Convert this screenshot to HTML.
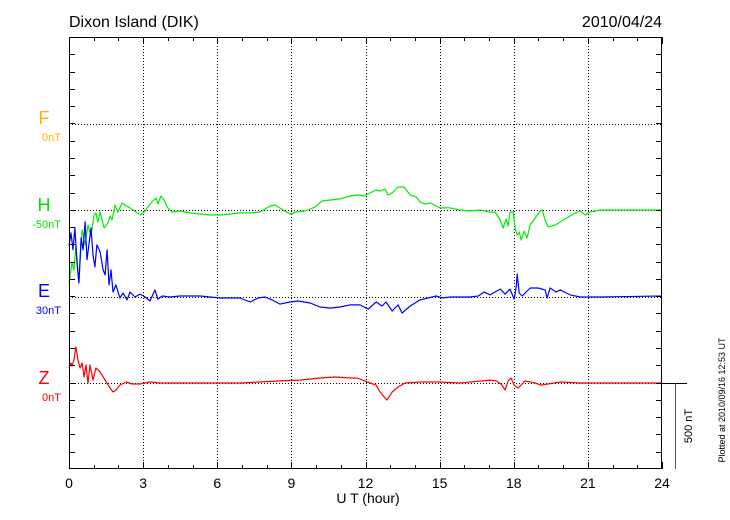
<!DOCTYPE html>
<html><head><meta charset="utf-8"><style>
body{margin:0;background:#fff;}
svg{display:block;font-family:"Liberation Sans",sans-serif;}
</style></head><body>
<svg id="chart" width="730" height="520" viewBox="0 0 730 520">
<text x="69" y="27" font-size="16">Dixon Island (DIK)</text>
<text x="662" y="27" font-size="16" text-anchor="end">2010/04/24</text>
<g id="grid"></g>
<g id="series"></g>
<rect x="69.5" y="37.5" width="592" height="431" fill="none" stroke="#000"/>
<g id="axes"></g>
<text x="368" y="503" font-size="14" text-anchor="middle">U T (hour)</text>
<g>
<text x="44" y="124" font-size="18" fill="#ffb000" text-anchor="middle">F</text>
<text x="61" y="141" font-size="11" fill="#ffb000" text-anchor="end">0nT</text>
<text x="44" y="211" font-size="18" fill="#00e000" text-anchor="middle">H</text>
<text x="61" y="228" font-size="11" fill="#00e000" text-anchor="end">-50nT</text>
<text x="44" y="297" font-size="18" fill="#0000ff" text-anchor="middle">E</text>
<text x="61" y="314" font-size="11" fill="#0000ff" text-anchor="end">30nT</text>
<text x="44" y="384" font-size="18" fill="#ff0000" text-anchor="middle">Z</text>
<text x="61" y="401" font-size="11" fill="#ff0000" text-anchor="end">0nT</text>
</g>
<g>
<line x1="662" y1="383.5" x2="687" y2="383.5" stroke="#000"/>
<line x1="675.5" y1="383" x2="675.5" y2="469" stroke="#555"/>
<text transform="translate(692,426) rotate(-90)" font-size="11" text-anchor="middle">500 nT</text>
</g>
<text transform="translate(725,400) rotate(-90)" font-size="9" text-anchor="middle">Plotted at 2010/09/16 12:53 UT</text>
</svg>
<script>
const xTicks=[0,3,6,9,12,15,18,21,24];
const baseH=[124,210,297,383];
const hT=[0,.12,.2,.28,.4,.53,.65,.77,.89,1.01,1.09,1.17,1.26,1.42,1.58,1.66,1.74,1.86,1.98,2.15,2.31,2.47,2.71,2.91,3.08,3.28,3.52,3.6,3.72,3.85,3.97,4.17,4.49,4.9,5.3,5.71,6.11,6.52,6.92,7.33,7.73,8.14,8.34,8.66,8.95,9.19,9.55,9.96,10.24,10.57,10.97,11.38,11.7,11.94,12.19,12.43,12.59,12.79,12.91,13.08,13.32,13.56,13.81,14.05,14.21,14.41,14.62,15.02,15.43,15.83,16.23,16.64,17.04,17.25,17.45,17.57,17.69,17.77,17.85,17.98,18.06,18.14,18.22,18.3,18.42,18.54,18.66,18.87,19.07,19.15,19.27,19.39,19.68,20.08,20.49,20.69,20.89,21.09,21.5,24];
const hV=[-423,-302,-348,-203,-418,-116,-203,-87,-151,-29,-17,-70,-12,-104,-75,-35,-58,29,-12,41,23,12,-12,-29,-6,35,70,35,81,58,17,-12,-6,-17,-23,-29,-29,-23,-17,-17,-12,23,29,0,-23,-12,-6,17,52,58,64,81,87,81,99,116,110,122,87,99,133,133,87,75,46,35,41,12,12,0,-6,0,-12,-12,-58,-104,-52,-93,-12,-12,-110,-145,-128,-174,-122,-162,-87,-46,-6,0,-58,-99,-87,-52,-17,-6,-29,-12,0,0];
const eT=[0,.08,.16,.24,.32,.4,.49,.57,.65,.73,.81,.89,.97,1.05,1.13,1.26,1.38,1.46,1.54,1.62,1.7,1.78,1.9,2.06,2.19,2.35,2.47,2.67,2.87,3.08,3.28,3.48,3.6,3.77,4.09,4.49,5.3,6.11,6.92,7.33,7.65,7.94,8.22,8.54,8.74,8.95,9.27,9.76,10.16,10.57,10.97,11.38,11.78,12.11,12.43,12.67,12.83,13.08,13.32,13.48,13.81,14.21,14.53,14.86,15.1,15.43,16.23,16.56,16.8,17.04,17.45,17.65,17.85,18.02,18.1,18.14,18.22,18.34,18.66,18.99,19.27,19.35,19.47,19.72,19.88,20.28,20.69,21.5,24];
const eV=[296,371,273,400,203,81,342,273,435,215,307,400,244,174,302,261,157,128,273,70,157,29,70,-6,23,-17,29,0,17,0,-23,41,-12,6,0,6,6,-6,-6,-29,-6,0,-17,-41,-35,-29,-23,-35,-58,-64,-58,-46,-46,-70,-29,-52,-29,-81,-46,-93,-52,-17,-6,6,-6,0,0,6,29,12,46,17,46,-12,58,133,23,6,52,52,41,-6,52,29,41,12,0,0,6];
const zT=[0,.08,.12,.2,.28,.36,.45,.53,.61,.69,.77,.85,.97,1.09,1.26,1.46,1.66,1.78,1.9,2.06,2.31,2.55,2.87,3.28,3.68,6.92,7.73,8.54,9.35,10.16,10.77,11.38,11.66,12.19,12.43,12.59,12.87,13.08,13.32,13.6,14.21,15.02,15.83,17.04,17.29,17.49,17.65,17.77,17.89,18.02,18.18,18.46,18.87,19.07,19.39,19.88,20.69,24];
const zV=[87,116,99,133,209,133,87,116,35,104,0,104,17,87,64,17,-29,-52,-41,-12,6,-6,-6,6,0,0,6,12,17,29,35,29,29,0,-12,-52,-99,-52,-23,0,6,6,0,17,12,-6,-41,12,29,-12,-29,12,0,-12,-6,6,0,0];

const X0=69,X1=662,Y0=37,Y1=469,PXPERNT=86.4/500;
const xs=t=>X0+t*(X1-X0)/24;
const ys=(v,b)=>b-v*PXPERNT;
const NS='http://www.w3.org/2000/svg';
function mk(tag,attrs,parent){const e=document.createElementNS(NS,tag);for(const k in attrs)e.setAttribute(k,attrs[k]);parent.appendChild(e);return e;}
const grid=document.getElementById('grid'),axes=document.getElementById('axes'),ser=document.getElementById('series');
xTicks.forEach(t=>{
  const x=Math.round(xs(t))+0.5;
  if(t>0&&t<24){const l=mk('line',{x1:x,y1:Y0,x2:x,y2:Y1,stroke:'#000','stroke-dasharray':'1,2'},grid);
  
  }
  const tx=mk('text',{x:xs(t),y:488,'font-size':14,'text-anchor':'middle'},axes);tx.textContent=t;
  
  
  mk('line',{x1:x,y1:Y1,x2:x,y2:Y1-7,stroke:'#000'},axes);
  mk('line',{x1:x,y1:Y0,x2:x,y2:Y0+7,stroke:'#000'},axes);
});
for(let h=1;h<24;h++){if(h%3===0)continue;const x=Math.round(xs(h))+0.5;
  mk('line',{x1:x,y1:Y1,x2:x,y2:Y1-4,stroke:'#000'},axes);mk('line',{x1:x,y1:Y0,x2:x,y2:Y0+4,stroke:'#000'},axes);}
baseH.forEach(b=>{const l=mk('line',{x1:X0,y1:b+0.5,x2:X1,y2:b+0.5,stroke:'#000','stroke-dasharray':'1,2'},grid);
  
  });
for(let i=1;i<25;i++){const y=Math.round(Y1-i*(Y1-Y0)/25)+0.5;
  mk('line',{x1:X0,y1:y,x2:X0+6,y2:y,stroke:'#000'},axes);mk('line',{x1:X1-6,y1:y,x2:X1,y2:y,stroke:'#000'},axes);}
function line(T,V,b,col,name){
  const d=T.map((t,i)=>(i?'L':'M')+xs(t).toFixed(1)+','+ys(V[i],b).toFixed(1)).join('');
  const p=mk('path',{d:d,fill:'none',stroke:col,'stroke-width':1.2,'stroke-linejoin':'round'},ser);
  
  
}
line(hT,hV,210,'#00ee00','series-h');
line(eT,eV,297,'#0000ff','series-e');
line(zT,zV,383,'#ff0000','series-z');
</script>
</body></html>
